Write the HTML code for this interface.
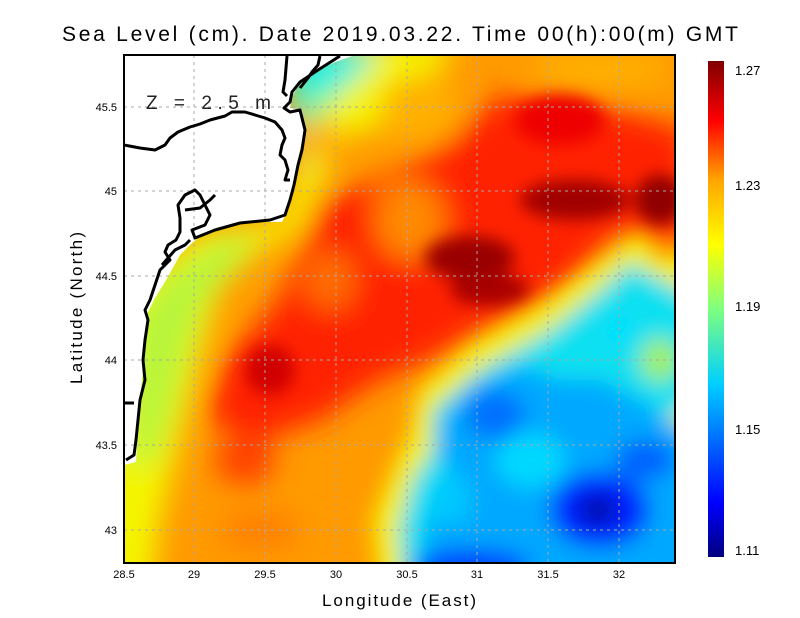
<!DOCTYPE html>
<html><head><meta charset="utf-8"><style>
html,body{margin:0;padding:0;background:#fff;}
svg{display:block;font-family:"Liberation Sans",sans-serif;}
</style></head><body>
<svg width="800" height="618" viewBox="0 0 800 618" xmlns="http://www.w3.org/2000/svg">
<defs>
<filter id="b1" x="-30%" y="-30%" width="160%" height="160%"><feGaussianBlur stdDeviation="14"/></filter>
<filter id="b2" x="-30%" y="-30%" width="160%" height="160%"><feGaussianBlur stdDeviation="8"/></filter>
<filter id="b3" x="-30%" y="-30%" width="160%" height="160%"><feGaussianBlur stdDeviation="11"/></filter>
<clipPath id="pc"><rect x="124" y="55" width="551" height="508"/></clipPath>
<linearGradient id="cb" x1="0" y1="1" x2="0" y2="0">
<stop offset="0" stop-color="#00007f"/><stop offset="0.11" stop-color="#0000ff"/>
<stop offset="0.35" stop-color="#00d0ff"/><stop offset="0.5" stop-color="#7fff7f"/>
<stop offset="0.63" stop-color="#ffff00"/><stop offset="0.76" stop-color="#ffa500"/>
<stop offset="0.88" stop-color="#ff0000"/><stop offset="1" stop-color="#7f0000"/>
</linearGradient>
</defs>
<text x="62" y="41" font-size="21" fill="#000" textLength="676" lengthAdjust="spacing">Sea Level (cm). Date 2019.03.22. Time 00(h):00(m) GMT</text>
<g clip-path="url(#pc)">
<rect x="124" y="55" width="551" height="508" fill="#ff9a00"/>
<g filter="url(#b1)">
 <polygon points="100,300 160,260 200,232 280,222 300,170 300,90 340,40 460,40 400,120 340,140 300,230 260,250 220,290 200,360 185,420 170,480 160,520 150,600 100,600" fill="#f4f500"/>
 <polygon points="130,330 160,280 220,240 260,235 240,260 205,300 185,360 170,420 155,460 130,470" fill="#b8f53a"/>
 <polygon points="290,50 350,45 380,55 330,100 300,140 290,110" fill="#20f0e0"/>
 <polygon points="300,100 330,90 310,160 298,170" fill="#80f080"/>
 <ellipse cx="420" cy="110" rx="40" ry="35" fill="#ffb000"/>
 <ellipse cx="600" cy="70" rx="70" ry="20" fill="#ffb000"/>
 <polygon points="205,420 225,360 280,300 320,200 380,180 450,140 500,95 600,105 690,130 690,240 620,230 560,290 480,330 430,360 380,380 320,420 260,440" fill="#ff2000"/>
 <ellipse cx="245" cy="460" rx="30" ry="25" fill="#ff4000"/>
 <ellipse cx="260" cy="530" rx="40" ry="20" fill="#ff8000"/>
 <ellipse cx="320" cy="140" rx="25" ry="20" fill="#ffb000"/>
 <ellipse cx="410" cy="220" rx="35" ry="40" fill="#ff8a00"/>
 <ellipse cx="330" cy="280" rx="25" ry="30" fill="#ff7000"/>
</g>
<g filter="url(#b2)">
 <ellipse cx="470" cy="258" rx="45" ry="22" fill="#9a0000"/>
 <ellipse cx="490" cy="290" rx="40" ry="16" fill="#a80000"/>
 <ellipse cx="575" cy="200" rx="55" ry="20" fill="#a00000"/>
 <ellipse cx="660" cy="200" rx="25" ry="25" fill="#900000"/>
 <ellipse cx="270" cy="370" rx="25" ry="25" fill="#d00000"/>
 <ellipse cx="560" cy="120" rx="45" ry="25" fill="#ee0000"/>
</g>
<g filter="url(#b3)">
 <polygon points="640,232 660,260 700,250 700,600 380,600 372,520 392,470 410,430 418,390 470,345 540,305 600,260" fill="#f4f000"/>
 <polygon points="630,262 700,300 700,400 665,420 700,430 700,600 405,600 398,530 412,480 432,450 432,410 480,370 550,330 600,290" fill="#10e0f0"/>
 <polygon points="440,420 470,385 520,365 560,380 600,380 640,400 700,440 700,600 425,600 425,520 460,480 440,460" fill="#00a8ff"/>
 <ellipse cx="495" cy="415" rx="30" ry="25" fill="#0070ff"/>
 <ellipse cx="530" cy="460" rx="35" ry="28" fill="#00d8ff"/>
 <ellipse cx="450" cy="500" rx="22" ry="25" fill="#00c8ff"/>
 <ellipse cx="600" cy="510" rx="50" ry="38" fill="#0020ff"/>
 <ellipse cx="598" cy="510" rx="18" ry="14" fill="#000c9a"/>
 <ellipse cx="470" cy="565" rx="60" ry="15" fill="#0030ff"/>
 <ellipse cx="645" cy="460" rx="30" ry="20" fill="#0060ff"/>
 <ellipse cx="620" cy="330" rx="15" ry="15" fill="#00e0ff"/>
 <ellipse cx="660" cy="360" rx="20" ry="22" fill="#a0f060"/>
</g>
<polygon points="124,55 355,55 335,62 315,72 300,82 292,97 290,108 302,110 305,130 300,150 296,170 292,195 288,210 282,222 250,222 225,227 205,233 192,243 180,255 165,282 155,298 148,312 145,340 143,370 140,400 138,430 136,462 124,465" fill="#fff"/>
<g stroke="#a8a8a8" stroke-width="1" stroke-dasharray="3,4">
 <line x1="194" y1="55" x2="194" y2="563"/><line x1="265" y1="55" x2="265" y2="563"/>
 <line x1="336" y1="55" x2="336" y2="563"/><line x1="407" y1="55" x2="407" y2="563"/>
 <line x1="477" y1="55" x2="477" y2="563"/><line x1="548" y1="55" x2="548" y2="563"/>
 <line x1="619" y1="55" x2="619" y2="563"/>
 <line x1="124" y1="107" x2="675" y2="107"/><line x1="124" y1="191" x2="675" y2="191"/>
 <line x1="124" y1="276" x2="675" y2="276"/><line x1="124" y1="360" x2="675" y2="360"/>
 <line x1="124" y1="445" x2="675" y2="445"/><line x1="124" y1="530" x2="675" y2="530"/>
</g>
<g fill="none" stroke="#000" stroke-width="3" stroke-linejoin="round">
 <polyline points="340,56 318,70 300,82 292,92 290,102 284,108 290,112 300,110 305,130 302,150 298,165 294,185 290,200 285,215 270,220 240,223 215,230 195,238 192,230 205,225 210,215 205,205 200,195 195,190 185,195 178,205 180,218 180,232 176,240 168,245 165,252 170,260 160,270 155,285 150,300 145,310 148,320 145,340 143,360 145,380 140,400 138,420 136,440 134,455 126,460"/>
 <polyline points="124,145 140,148 155,150 165,145 170,138 178,132 190,127 200,124 210,120 225,116 232,112 245,112 255,115 265,118 275,122 282,130 285,138 282,145 280,155 285,160 288,170 285,180 290,180"/>
 <polyline points="287,56 285,80 283,92 287,96"/>
 <polyline points="320,56 318,65 312,72 308,78 300,88"/>
 <polyline points="124,403 134,403"/>
 <polyline points="185,210 200,208 210,200 215,195"/>
 <polyline points="162,265 175,250 185,245 190,240"/>
</g>
</g>
<rect x="124" y="55" width="551" height="508" fill="none" stroke="#000" stroke-width="2"/>
<text x="146" y="109" font-size="19" fill="#222" textLength="125" lengthAdjust="spacing">Z = 2.5 m</text>
<g font-size="11" fill="#000" text-anchor="middle">
 <text x="124" y="578">28.5</text><text x="194" y="578">29</text><text x="265" y="578">29.5</text>
 <text x="336" y="578">30</text><text x="407" y="578">30.5</text><text x="477" y="578">31</text>
 <text x="548" y="578">31.5</text><text x="619" y="578">32</text>
</g>
<g font-size="11" fill="#000" text-anchor="end">
 <text x="117" y="111">45.5</text><text x="117" y="195">45</text><text x="117" y="280">44.5</text>
 <text x="117" y="364">44</text><text x="117" y="449">43.5</text><text x="117" y="534">43</text>
</g>
<text x="322" y="606" font-size="17" textLength="154" lengthAdjust="spacing">Longitude (East)</text>
<text transform="translate(82,384) rotate(-90)" font-size="17" textLength="152" lengthAdjust="spacing">Latitude (North)</text>
<rect x="708" y="61" width="16" height="496" fill="url(#cb)"/>
<g font-size="13" fill="#000">
 <text x="735" y="75">1.27</text><text x="735" y="190">1.23</text><text x="735" y="311">1.19</text>
 <text x="735" y="434">1.15</text><text x="735" y="555">1.11</text>
</g>
</svg>
</body></html>
